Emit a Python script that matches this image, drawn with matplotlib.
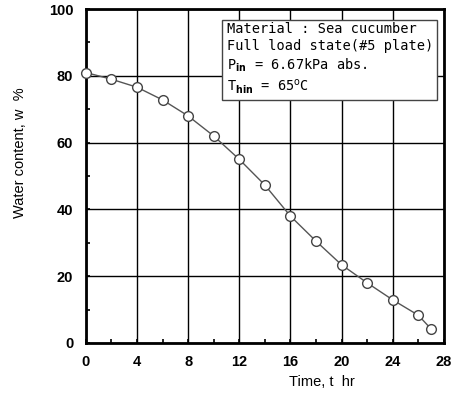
import matplotlib
matplotlib.use("Agg")
import matplotlib.pyplot as plt
from matplotlib.ticker import MultipleLocator

time_hr = [0, 2, 4, 6, 8, 10, 12, 14, 16, 18, 20, 22, 24, 26, 27]
water = [81.0, 79.0, 76.6, 72.8, 68.0, 62.0, 55.0, 47.3, 38.0, 30.5, 23.4, 18.0, 12.9, 8.3, 4.2]
x_ticks = [0, 4, 8, 12, 16, 20, 24, 28]
y_ticks = [0, 20, 40, 60, 80, 100]

fig = plt.figure(figsize=(4.59, 3.96), dpi=100)
ax = fig.add_axes([0.187, 0.134, 0.78, 0.843])
ax.set_xlim(0, 28)
ax.set_ylim(0, 100)
ax.set_xticks(x_ticks)
ax.set_yticks(y_ticks)
ax.xaxis.set_minor_locator(MultipleLocator(2))
ax.yaxis.set_minor_locator(MultipleLocator(10))
ax.grid(True, which="major", color="black", linewidth=1.0)
ax.set_axisbelow(True)
ax.tick_params(which="both", direction="in", length=3, width=1.2, top=False, right=False)
ax.tick_params(which="major", labelsize=10.5, pad=9)
for lab in ax.get_xticklabels() + ax.get_yticklabels():
    lab.set_fontweight("bold")
    lab.set_family("Liberation Sans")
for s in ax.spines.values():
    s.set_linewidth(2)
    s.set_color("black")

ax.plot(time_hr, water, color="#555555", linewidth=1.0, marker="o",
        markersize=7, markerfacecolor="white", markeredgecolor="#444444",
        markeredgewidth=1.0, clip_on=False, zorder=3)

ax.set_xlabel("Time, t  hr", fontsize=10.5, family="Liberation Sans")
ax.set_ylabel("Water content, w  %", fontsize=10.5, family="Liberation Sans")
ax.xaxis.set_label_coords(0.66, -0.095)
ax.yaxis.set_label_coords(-0.165, 0.57)

txt = ("Material : Sea cucumber\n"
       "Full load state(#5 plate)\n"
       r"P$_{\mathbf{in}}$ = 6.67kPa abs." "\n"
       r"T$_{\mathbf{hin}}$ = 65$^{\mathrm{o}}$C")
ax.text(0.393, 0.962, txt, transform=ax.transAxes, ha="left", va="top",
        fontsize=9.8, family="DejaVu Sans Mono", linespacing=1.28,
        bbox=dict(boxstyle="square,pad=0.3", facecolor="white", edgecolor="#444444", linewidth=1.0),
        zorder=5)

fig.savefig("out.png", dpi=100)
